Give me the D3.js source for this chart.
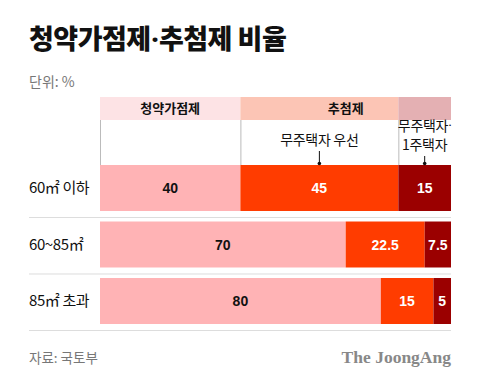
<!DOCTYPE html>
<html>
<head>
<meta charset="utf-8">
<script src="https://cdn.jsdelivr.net/npm/d3@7"></script>
<style>
  body { margin: 0; background: #fff; }
  svg { font-family: 'Noto Sans CJK KR', 'Noto Sans', sans-serif; }
</style>
</head>
<body>
<svg id="chart"></svg>
<script>
//data
var rows = ['60㎡ 이하', '60~85㎡', '85㎡ 초과'];
var gajeom = [40, 70, 80];        // 청약가점제
var noHouse = [45, 22.5, 15];     // 추첨제 - 무주택자 우선
var oneHouse = [15, 7.5, 5];      // 추첨제 - 무주택자·1주택자
var headers = [{name: '청약가점제', from: 0, to: 40}, {name: '추첨제', from: 40, to: 100}];

var svg = d3.select('#chart')
    .attr('width', 480)
    .attr('height', 385);

//scales
var x = d3.scaleLinear().domain([0, 100]).range([100, 451]);
var y = d3.scaleBand().domain(rows).range([165, 324]).paddingInner(0.186).paddingOuter(0);
var colors = ['#ffb3b5', '#ff3c00', '#9b0000'];
var textColors = ['#111', '#fff', '#fff'];

//writes text, putting a narrow latin middle dot instead of the wide CJK one
function dotText(sel, str) {
    str.split('·').forEach(function(part, i) {
        if (i > 0) sel.append('tspan').attr('font-family', 'Roboto, sans-serif').text('·');
        sel.append('tspan').text(part);
    });
}

//title
var title = svg.append('text')
    .attr('x', 29).attr('y', 49)
    .attr('font-size', 27).attr('font-weight', 900)
    .attr('fill', '#111')
    .attr('letter-spacing', -0.5);
dotText(title, '청약가점제·추첨제 비율');

svg.append('text')
    .attr('x', 29).attr('y', 87)
    .attr('font-size', 14).attr('fill', '#777')
    .text('단위: %');

//header band
svg.append('rect')
    .attr('x', x(0)).attr('y', 97)
    .attr('width', x(40) - x(0)).attr('height', 23)
    .attr('fill', '#fde3e5');
svg.append('rect')
    .attr('x', x(40)).attr('y', 97)
    .attr('width', x(85) - x(40)).attr('height', 23)
    .attr('fill', '#fcc5b5');
svg.append('rect')
    .attr('x', x(85)).attr('y', 97)
    .attr('width', x(100) - x(85)).attr('height', 23)
    .attr('fill', '#e4b0b3');

svg.selectAll('.header').data(headers)
    .enter().append('text')
    .attr('class', 'header')
    .attr('x', d => (x(d.from) + x(d.to)) / 2)
    .attr('y', 113)
    .attr('text-anchor', 'middle')
    .attr('font-size', 13).attr('font-weight', 700)
    .attr('fill', '#111')
    .text(d => d.name);

//vertical dividers under header
[0, 40, 85].forEach(function(v) {
    svg.append('line')
        .attr('x1', x(v) + 0.5).attr('x2', x(v) + 0.5)
        .attr('y1', 120).attr('y2', 165)
        .attr('stroke', '#bbb').attr('stroke-width', 1);
});

//stacked data
var stacked = rows.map((r, i) => {
    var vals = [gajeom[i], noHouse[i], oneHouse[i]];
    var acc = 0;
    return vals.map((v, j) => {
        var seg = {row: r, j: j, v: v, x0: acc, x1: acc + v};
        acc += v;
        return seg;
    });
});

var rowG = svg.selectAll('.row').data(stacked)
    .enter().append('g')
    .attr('class', 'row');

rowG.selectAll('rect').data(d => d)
    .enter().append('rect')
    .attr('x', d => x(d.x0))
    .attr('y', d => y(d.row))
    .attr('width', d => x(d.x1) - x(d.x0))
    .attr('height', y.bandwidth())
    .attr('fill', d => colors[d.j]);

rowG.selectAll('.val').data(d => d)
    .enter().append('text')
    .attr('class', 'val')
    .attr('x', d => (x(d.x0) + x(d.x1)) / 2)
    .attr('y', d => y(d.row) + y.bandwidth() / 2 + 5)
    .attr('text-anchor', 'middle')
    .attr('font-size', 14).attr('font-weight', 700)
    .attr('font-family', '"Liberation Sans", Arial, sans-serif')
    .attr('fill', d => textColors[d.j])
    .text(d => d.v);

//row labels
svg.selectAll('.rowlabel').data(rows)
    .enter().append('text')
    .attr('class', 'rowlabel')
    .attr('x', 29)
    .attr('y', d => y(d) + y.bandwidth() / 2 + 5)
    .attr('font-size', 15)
    .attr('fill', '#111')
    .attr('letter-spacing', -0.4)
    .text(d => d);

//separators
svg.selectAll('.sep').data(rows)
    .enter().append('line')
    .attr('class', 'sep')
    .attr('x1', 29).attr('x2', 451)
    .attr('y1', d => y(d) + y.bandwidth() + 6.5)
    .attr('y2', d => y(d) + y.bandwidth() + 6.5)
    .attr('stroke', '#ddd').attr('stroke-width', 1);

//annotations
var first = stacked[0];
var ann = [
    {lines: ['무주택자 우선'], cx: (x(first[1].x0) + x(first[1].x1)) / 2, top: 145},
    {lines: ['무주택자·', '1주택자'], cx: (x(first[2].x0) + x(first[2].x1)) / 2, top: 131}
];
ann.forEach(function(a) {
    a.lines.forEach(function(t, k) {
        var tx = svg.append('text')
            .attr('x', a.cx).attr('y', a.top + k * 19)
            .attr('text-anchor', 'middle')
            .attr('font-size', 14)
            .attr('fill', '#111')
            .attr('letter-spacing', -0.3);
        dotText(tx, t);
    });
    var yEnd = y(rows[0]);
    svg.append('line')
        .attr('x1', a.cx).attr('x2', a.cx)
        .attr('y1', a.top + (a.lines.length - 1) * 19 + 6).attr('y2', yEnd)
        .attr('stroke', '#111').attr('stroke-width', 1);
    svg.append('circle')
        .attr('cx', a.cx).attr('cy', yEnd - 1.5)
        .attr('r', 1.8).attr('fill', '#111');
});

//footer
svg.append('text')
    .attr('x', 29).attr('y', 363)
    .attr('font-size', 13.5).attr('fill', '#777')
    .text('자료: 국토부');

svg.append('text')
    .attr('x', 451).attr('y', 363)
    .attr('text-anchor', 'end')
    .attr('font-family', '"Liberation Serif", "DejaVu Serif", serif')
    .attr('font-size', 17.5).attr('font-weight', 700)
    .attr('fill', '#888')
    .text('The JoongAng');
</script>
</body>
</html>
